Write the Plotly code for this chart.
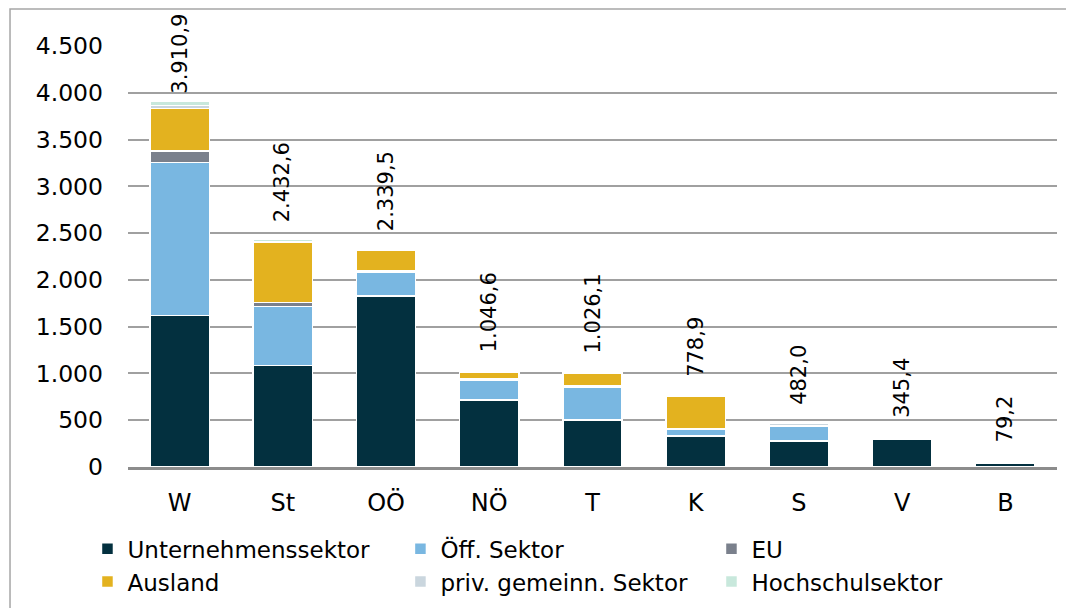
import plotly.graph_objects as go

categories = ["W", "St", "OÖ", "NÖ", "T", "K", "S", "V", "B"]
unternehmen = [1622, 1083, 1828, 716, 502, 331, 278, 296, 38]
oeff_sektor = [1635, 631, 253, 215, 350, 72, 153, 12, 3]
eu = [121, 47, 12, 10, 12, 5, 3, 2, 0]
ausland = [452, 637, 223, 75, 140, 345, 8, 5, 2]
priv_gemeinn = [35, 14, 10, 15, 12, 13, 25, 15, 3]
hochschul = [45, 20, 13, 15, 10, 13, 15, 15, 3]
totals = [3910.9, 2432.6, 2339.5, 1046.6, 1026.1, 778.9, 482.0, 345.4, 79.2]

# (name, values, colour, legend column)
series = [
    ("Unternehmenssektor", unternehmen, "#03303f", "legend"),
    ("Öff. Sektor", oeff_sektor, "#79b7e1", "legend2"),
    ("EU", eu, "#7a808c", "legend3"),
    ("Ausland", ausland, "#e3b21f", "legend"),
    ("priv. gemeinn. Sektor", priv_gemeinn, "#cad6de", "legend2"),
    ("Hochschulsektor", hochschul, "#c8e8dc", "legend3"),
]

FONT = "DejaVu Sans"
fig = go.Figure()
for name, vals, col, lg in series:
    fig.add_trace(go.Bar(
        x=categories, y=vals, name=name, legend=lg,
        marker=dict(color=col, line=dict(color="white", width=1.5)),
    ))


def fmt(v):
    s = f"{v:,.1f}"
    return s.replace(",", "X").replace(".", ",").replace("X", ".")


YMAX = 4500
for c, t in zip(categories, totals):
    fig.add_annotation(
        x=c, y=t, text=fmt(t), textangle=-90, showarrow=False,
        xanchor="center", yanchor="bottom", yshift=5 if t > 0.85 * YMAX else 15,
        font=dict(family=FONT, size=21, color="#000000"),
    )

# outer frame (left and top edges)
fig.add_shape(type="path", xref="paper", yref="paper",
              path="M -0.127,-0.4 L -0.127,1.088 L 1.1,1.088",
              line=dict(color="#a6a6a6", width=1.5))


def legend_col(x):
    return dict(
        orientation="v", traceorder="normal",
        xref="container", yref="container",
        x=x, xanchor="left", y=0.146, yanchor="top",
        font=dict(family=FONT, size=23, color="#000000"),
        itemclick=False, tracegroupgap=0, bgcolor="rgba(0,0,0,0)",
    )


fig.update_layout(
    width=1074, height=608,
    barmode="stack", bargap=0.425,
    separators=",.",
    plot_bgcolor="white", paper_bgcolor="white",
    margin=dict(l=120, r=25, t=38, b=149, autoexpand=False),
    font=dict(family=FONT, size=23, color="#000000"),
    showlegend=True,
    legend=legend_col(0.074),
    legend2=legend_col(0.3654),
    legend3=legend_col(0.655),
)
fig.update_yaxes(
    range=[0, YMAX], dtick=500, tickformat=",d",
    showgrid=True, gridcolor="#a0a0a0", gridwidth=1.5,
    zeroline=False, showline=False, ticks="", ticklabelstandoff=24,
    tickfont=dict(family=FONT, size=23.5),
)
fig.update_xaxes(
    showline=True, linecolor="#8c8c8c", linewidth=2.5,
    ticks="", ticklabelstandoff=12, tickfont=dict(family=FONT, size=24),
)

fig.write_html("out.html")
